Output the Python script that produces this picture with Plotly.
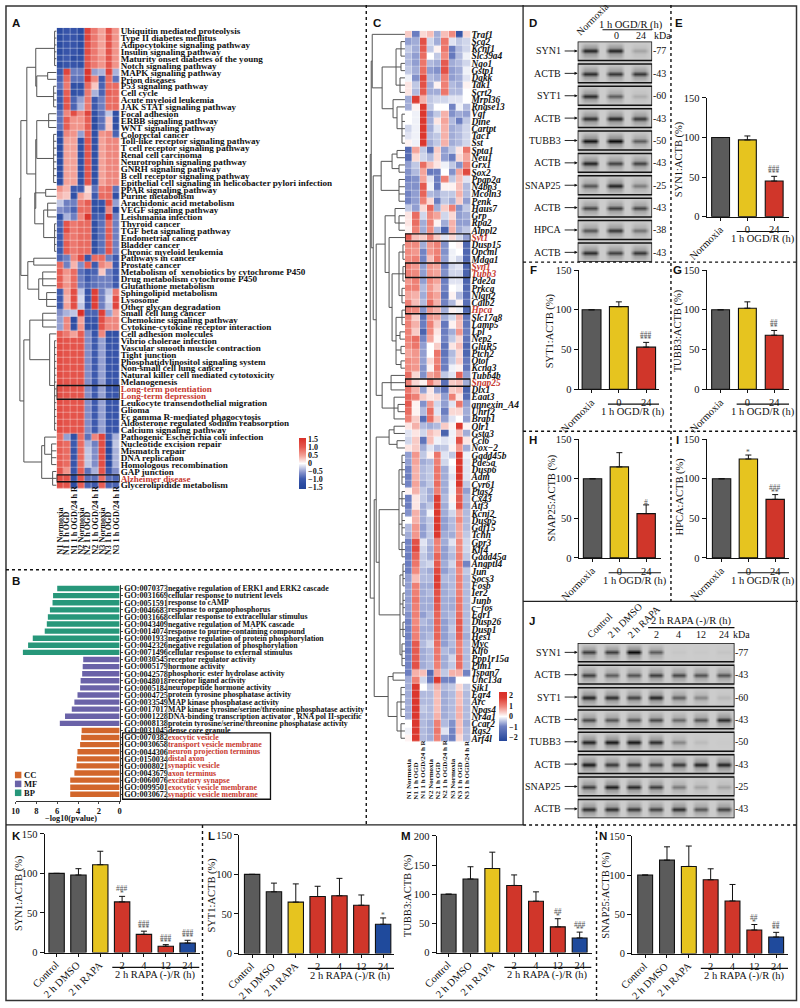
import plotly.graph_objects as go

W, H = 800, 1008
SERIF = "Liberation Serif"
SANS = "Liberation Sans"

# ---------------- DATA ----------------
A_rows = ["Ubiquitin mediated proteolysis","Type II diabetes mellitus","Adipocytokine signaling pathway","Insulin signaling pathway","Maturity onset diabetes of the young","Notch signaling pathway","MAPK signaling pathway","Prion diseases","P53 signaling pathway","Cell cycle","Acute myeloid leukemia","JAK STAT signaling pathway","Focal adhesion","ERBB signaling pathway","WNT signaling pathway","Colorectal cancer","Toll-like receptor signaling pathway","T cell receptor signaling pathway","Renal cell carcinoma","Neurotrophin signaling pathway","GNRH signaling pathway","B cell receptor signaling pathway","Epithelial cell signaling in helicobacter pylori infection","PPAR signaling pathway","Purine metabolism","Arachidonic acid metabolism","VEGF signaling pathway","Leishmania infection","Thyroid cancer","TGF beta signaling pathway","Endometrial cancer","Bladder cancer","Chronic myeloid leukemia","Pathways in cancer","Prostate cancer","Metabolism of  xenobiotics by cytochrome P450","Drug metabolism cytochrome P450","Glutathione metabolism","Sphingolipid metabolism","Lysosome","Other glycan degradation","Small cell lung cancer","Chemokine signaling pathway","Cytokine-cytokine receptor interaction","Cell adhesion molecules","Vibrio cholerae infection","Vascular smooth muscle contraction","Tight junction","Phosphatidylinositol signaling system","Non-small cell lung cancer","Natural killer cell mediated cytotoxicity","Melanogenesis","Long-term potentiation","Long-term depression","Leukocyte transendothelial migration","Glioma","Fc gamma R-mediated phagocytosis","Aldosterone regulated sodium reabsorption","Calcium signaling pathway","Pathogenic Escherichia coli infection","Nucleotide excision repair","Mismatch repair","DNA replication","Homologous recombination","GAP junction","Alzheimer disease","Glycerolipidide metabolism"]
A_red = ["Long-term potentiation","Long-term depression","Alzheimer disease"]
A_z = [
[-1.3,-1.1,-1.1,-1.3,1.3,.8,.5,1.1,.6],[-1.3,-1.1,-1.1,-1.3,1.3,.8,.5,1.1,.6],[-1.3,-1.1,-1.1,-1.3,1.2,.8,.5,1.1,.6],
[-1.3,-1.1,-1.1,-1.3,1.2,.8,.5,1.1,.6],[-1.2,-1,-1.3,-1.2,1.1,.8,.6,1.1,.6],[-1.3,-1.1,-1.1,-1.2,1.1,.8,.6,1.1,.6],
[-1,1.3,-.7,-.7,1.5,-.5,-.4,1.3,-.4],[-.9,.9,-.8,-.8,1.5,.7,-1,.9,-.8],[-.8,.8,-1.2,-1.2,.9,.3,-.9,.9,.9],
[-1,1,-1.2,-1.1,.8,-.4,-.9,1,.9],[-1,1.1,-.9,-.5,.8,-1,-.7,.9,.9],[-1,1.1,-.9,-.4,.8,-1,-.7,.9,.9],
[-.8,.7,1.2,.7,1.3,-1.2,-.8,-.3,-1.2],[-.8,1,.6,.6,1,-1.3,-.8,.3,-1.2],[-.8,1,.6,.6,1,-1.3,-.8,.3,-1.2],
[-1.2,.7,.6,-.5,1,-1.2,.6,.7,-.9],[-1.3,.5,.5,-1.2,1.1,-1.2,.5,.7,.7],[-1.3,.5,.5,-1.2,1.1,-1.2,.5,.7,.7],
[-1.3,.5,.5,-1.2,1.1,-1.2,.5,.7,.7],[-1.3,.5,.5,-1.2,1.1,-1.2,.5,.7,.7],[-1.3,.5,.5,-1.2,1.1,-1.2,.5,.7,.7],
[-1.3,.5,.5,-1.2,1.1,-1.2,.5,.7,.7],[-1.3,.5,.5,-1.2,1.1,-1.2,.5,.7,.7],
[.6,.4,-1,-1,.2,-.8,.8,.9,-.8],[.4,.3,-1.2,.5,.3,-1,.9,.9,-1.2],[-.3,-.7,-.7,.8,1,-1.2,-1.1,1.2,-.5],
[-.6,-.7,-.9,.9,.9,-1.2,-1.3,.7,-1.3],[-1.2,-.4,-.7,.7,1.5,-1,-.9,1.6,-.7],[-.9,1.1,.8,.9,.9,-1.2,-.8,.9,-.7],
[-1,1.2,.8,.9,.9,-1.2,-.8,1,-.7],[-1,.9,.8,.9,.9,-1.2,-.8,1,-.7],[-1,1,.8,.9,.9,-1.2,-.8,1,-.7],
[-1,1,.8,.9,.9,-1.2,-.8,1.1,-.7],[-.9,-.7,.7,1.2,-1.1,.9,.9,-.7,-1],[.9,-.7,.4,-.6,1,-1,.7,.5,-1],
[1,.6,.9,-.8,-1,-.9,.3,-.7,-1],[1,.5,.9,-.7,-1,-.8,-.7,-.7,-1],[1,.6,.9,-.7,-.9,-.8,-.7,-.7,-1],
[-1,.5,1.2,-.3,-1.1,1.4,-.7,-.3,.8],[-1,.4,1.2,-.2,-1.1,1.4,-.7,-.2,1.2],[-1,.5,1.2,-.3,-1.1,1.4,-.7,-.3,1.3],
[-.6,-.4,-.3,1.6,-.9,-.9,1.4,-.5,.5],[-.5,.7,-1.3,.5,-1.1,-1.1,1.2,.7,.7],[-.5,.7,-1.2,.6,-1.2,-1.2,1.1,.7,.7],
[1,.8,.5,1,-.6,-1.1,.7,-1.2,-1.2],[1.2,1.1,1.1,1.1,-.6,-1,-.5,-1.2,-1.1],[1.2,1.1,1.1,1.1,-.6,-1,-.5,-1.1,-1.1],
[1.2,1.1,1.1,1.1,-.6,-1,-.5,-1.1,-1.1],[1.2,1.1,1.1,1.1,-.6,-1,-.5,-1.1,-1.1],[1.2,1.1,1.1,1.1,-.6,-1,-.5,-1.1,-1.1],
[1.2,1.1,1.1,1.1,-.6,-1,-.5,-1.1,-1.1],[1.2,1.1,1.1,1.1,-.6,-1,-.5,-1.1,-1.1],[1.2,1.1,1.1,1.1,-.6,-1,-.5,-1.1,-1.1],
[1.2,1.1,1.1,1.1,-.6,-1,-.5,-1.1,-1.1],[1.2,1.1,1.1,1.1,-.6,-1,-.5,-1.1,-1.1],[1.2,1.1,1.1,1.1,-.6,-1,-.5,-1.1,-1.1],
[1.2,1.1,1.1,1.1,-.6,-1,-.5,-1.1,-1.1],[1.2,1.1,1.1,1.1,-.6,-1,-.5,-1.1,-1.1],[1.2,1.1,1.1,1.1,-.6,-1,-.5,-1.1,-1.1],
[.9,-.5,-1.2,.9,-.8,.7,1.3,-1,-.4],[1,.9,-1,.9,-.4,-.7,1.2,-1.3,-.3],[1,.9,-1.1,.9,-.3,-.6,1.2,-1.4,-.4],
[1,.9,-1.1,.9,-.3,-.6,1.2,-1.4,-.4],[1,.9,-1.1,.9,-.3,-.6,1.2,-1.4,-.4],[1.1,.6,-1.1,1,-.8,-.4,1.1,-1.1,-.6],
[1.2,1.1,-1.2,1.1,-.8,-.8,.9,-.8,-.9],[1.2,1.1,-1.3,1,-.9,-1,1,-.9,-.9]]
A_cols = ["N1 Normoxia","N1 1 h OGD","N1 1 h OGD/24 h R","N2 Normoxia","N2 1 h OGD","N2 1 h OGD/24 h R","N3 Normoxia","N3 1 h OGD","N3 1 h OGD/24 h R"]
A_tree = [37,
  [36,
    [30,[21,[2,0,1,2,3,4,5],[20,[9,6,7],[3,8,9,10,11]]],
        [21,[20,[8,12,13,14],[3,15,16,17,18,19,20,21,22]],[22,[11,23,24],[13,[9,25,26,27],[2,28,29,30,31,32]]]]],
    [29,[23,33,34],[18,[14,35,36,37],[10,38,39,40]]]],
  [33,[27,[14,41,42,43],[7,44,[2,45,46,47,48,49,50,51,52,53,54,55,56,57,58]]],
      [15,[12,59,[5,60,61,62,63]],[4,64,65,66]]]]

B_ids = ["GO:0070373","GO:0031669","GO:0051591","GO:0046683","GO:0031668","GO:0043409","GO:0014074","GO:0001933","GO:0042326","GO:0071496","GO:0030545","GO:0005179","GO:0042578","GO:0048018","GO:0005184","GO:0004725","GO:0033549","GO:0017017","GO:0001228","GO:0008138","GO:0031045","GO:0070382","GO:0030658","GO:0044306","GO:0150034","GO:0008021","GO:0043679","GO:0060076","GO:0099501","GO:0030672"]
B_desc = ["negative regulation of ERK1 and ERK2 cascade","cellular response to nutrient levels","response to cAMP","response to organophosphorus","cellular response to extracellular stimulus","negative regulation of MAPK cascade","response to purine-containing compound","negative regulation of protein phosphorylation","negative regulation of phosphorylation","cellular response to external stimulus","receptor regulator activity","hormone activity","phosphoric ester hydrolase activity","receptor ligand activity","neuropeptide hormone activity","protein tyrosine phosphatase activity","MAP kinase phosphatase activity","MAP kinase tyrosine/serine/threonine phosphatase activity","DNA-binding transcription activator , RNA pol II-specific","protein tyrosine/serine/threonine phosphatase activity","dense core granule","exocytic vesicle","transport vesicle membrane","neuron projection terminus","distal axon","synaptic vesicle","axon terminus","excitatory synapse","exocytic vesicle membrane","synaptic vesicle membrane"]
B_bp = [6.0,6.4,6.45,6.7,6.9,7.0,7.2,8.35,8.8,9.3]
B_mf = [3.5,3.55,3.6,3.75,3.8,4.05,4.35,4.6,5.25,5.75]
B_cc = [3.65,3.7,3.8,4.05,4.1,4.15,4.35,4.75,4.75,4.75]
B_groups = ["CC","MF","BP"]

C_rows = ["Traf1","Scg2","Kcnf1","Slc39a4","Nqo1","Gstp1","Dgkk","Tak1","Scrt2","Mrpl36","Rnase13","Vgf","Dine","Cartpt","Tac1","Sst","Spta1","Neu1","Grx1","Sox2","Ppap2a","N4bp3","Mcoln3","Penk","Haus7","Grp","Rpa2","Alppl2","Syt1","Dusp15","Opcml","Mdga1","Syn1","Tubb3","Pde2a","Prkcg","Nlgn2","Calb2","Hpca","Slc17a8","Lamp5","Lpl","Nep2","GluR5","Ptch2","Otof","Kcnq3","Tubb4b","Snap25","Dlx1","Eaat3","annexin_A4","Uhrf2","Brap1","Olr1","Gsta3","Ccl6","Nox\u22122","Gadd45b","Pde5a","Dusp6","Adm","Cyr61","Ptgs2","Cx43","Atf3","Kcnj2","Dusp5","Gdf15","Tchh","Gpr3","Klf4","Gadd45a","Angptl4","Jun","Socs3","Fosb","Ier2","Junb","c\u2212fos","Egr1","Dusp26","Dusp1","Hes1","Myc","Klf6","Ppp1r15a","Pim1","Tspan7","Unc13a","Sik1","Egr4","Arc","Npas4","Nr4a1","Ccar2","Rgs2","Arf4l"]
C_red = ["Syt1","Syn1","Tubb3","Hpca","Snap25"]
C_z = [
[.4,-1,.3,.5,-.6,.5,.9,-1.9,.3],[-.7,-.6,1.5,-.3,-.6,1.1,-.2,-.4,-.3],[-.4,-.6,1.4,-.4,.1,1.1,-1,-.5,-.3],[-.5,-.7,1.2,0,-.4,.9,-1.1,-.5,-.1],
[-.5,-.7,1.1,-.5,-.6,1.4,-.6,-.5,-.3],[-.4,-.6,1.2,-.7,-.8,1.5,-.7,-.6,-.1],[-.1,-.8,1.6,-.5,-.6,1,-.7,-.6,-.2],[.2,-.4,1.5,-.6,.1,1,-.5,-.6,.1],
[.2,-.5,1.4,-.6,-.6,1.1,-.5,-.5,0],[-.6,1.7,.6,-.4,-.3,-.3,-.2,-.2,0],[-.6,.1,1.8,-.4,0,0,-.9,-.1,-.5],[0,-.1,1.9,-.7,-.4,.6,-.8,-.6,-.7],
[0,-.1,1.9,-.6,.2,.7,-.5,-1,-.4],[-.3,-.1,1.9,-.6,-.2,.6,-.6,-.5,-.3],[-.2,-.1,1.9,-.5,-.4,.6,-.6,-.5,-.3],[.1,-.1,1.9,-.6,-.4,.6,-.6,-.5,-.3],
[-1.4,.7,-.4,-1.3,.4,-.7,-.4,.2,1.1],[-1.4,.3,-.3,-.5,.3,-.7,-1,.3,.7],[-.7,-.4,1.2,.5,.2,-.1,-.4,-.8,1],[-.8,-.5,.7,-1.1,-1,0,-.8,.7,1.6],
[-.9,-.8,.7,-.2,-1,1,-.4,.5,-.2],[-.8,-.8,1.4,-.1,-1.1,.1,.1,.5,-.5],[-.9,-.7,1.3,-.5,-.6,-.4,-.4,.6,-.5],[-.9,-.7,1,.3,-1,-.4,-.6,.4,-.7],
[-.4,-.7,.3,1.3,-.6,.4,1,-.8,-.4],[.2,1.2,-.3,.9,.7,-.3,.3,-.7,-.6],[.2,1.2,-.6,1,.1,-.6,.6,-.7,-.7],[.1,1,-.6,.9,-.5,-1.6,.6,-.6,-.4],
[1.4,.5,.4,1,.4,-.2,.3,-.3,-.7],[.9,.9,-.6,.8,1,-.8,0,.1,-1.5],[.9,.8,-.9,.8,1,-.8,-.1,0,-1.5],[.9,1,-.9,.5,1.1,-.7,-.1,-.3,-1.5],
[1,.8,-.7,.8,.7,-1,-.3,-.2,-1.6],[1,.9,-.7,.8,.7,-.8,-.3,-.3,-1.6],[.8,1,-.7,.9,.7,-1,-.2,-.2,-1.6],[1,1,-.5,.8,.5,-.9,0,-.1,-1.5],
[.7,.6,-.6,.9,.7,-1.2,.1,-.5,-1.4],[1,.5,-.5,1.2,.6,-.9,-.5,.1,-1.3],[1,.9,-.8,.8,.6,-.6,.1,-.1,-1.5],[1,.4,-1.3,.8,.7,-.6,-.3,.6,-1.2],
[1,.6,-1,1,.4,-1.1,.1,.5,-1.2],[1,.4,-1.6,.9,.2,-1,-.6,.8,-1],[1,1.2,-.9,.7,.1,-.9,-.4,.3,-1.2],[.9,1.1,-.7,0,.4,-1.2,.2,.5,-1.5],
[.7,.8,-.7,0,1.1,-1.2,-.5,.3,-1.5],[.9,.8,-.7,.3,1,-1,-.4,.4,-1.1],[.9,.8,-.8,.1,1.1,-1,-.1,.1,-1.2],[1.2,.3,-.8,.7,.9,-.4,-.2,1.3,-.7],
[1,.3,.1,1,.5,-1.3,.4,.5,-.6],[1.1,.6,-.7,.2,-.7,-1.2,.4,.5,-1.6],[1.3,1,.4,.2,.3,-.7,1,.2,-1.4],[1.4,.1,-.8,.8,-.3,-.7,-.2,1.1,-.7],
[1.2,.1,-.5,1.2,-.2,-1,.3,.3,-.6],[1,.4,-1.4,1.2,.4,-.7,-.2,0,-.7],[.2,.6,-.5,-.6,-.5,.4,.1,1.9,.1],[-.2,.2,-.3,.5,.3,-1.6,-.1,.5,-.6],
[-.3,.4,-1.2,.5,-.1,-.2,-.1,1.5,.2],[.2,.4,-.6,-.2,-.5,-.4,.1,.8,-.6],[-.7,.8,-.4,.1,1.1,-.2,-.4,1.8,-.1],[-.7,.7,-.6,-.5,1,-.3,0,1.9,-.2],
[-.9,.6,-.5,-.4,1.1,-.6,-.1,1.9,-.2],[-1,.6,-.5,-.4,1.1,-.6,-.2,1.9,-.2],[-.9,.7,-.6,-.4,1.2,-.6,-.1,1.9,-.4],[.1,.6,-.4,-.6,1,-.6,-.1,1.3,-.7],
[-1,.2,-.4,-.6,1.7,-.5,.1,1.4,-.5],[-1,.2,-.6,-.4,1.7,-.6,-.1,1.5,-.6],[-.8,.6,-.6,-.1,1.8,-.6,-.3,.7,-.5],[0,.6,-.6,-.4,1.8,-.7,-.5,.9,-.5],
[-.5,.8,-.7,-.4,1.9,-.7,-.5,.7,-.5],[-.6,.8,-.7,-.4,1.9,-.6,-.6,.7,-.4],[-.9,1.5,-.2,-.5,1,-.6,-.2,.9,-.3],[-.9,1.6,-.3,-.6,1,-.7,-.4,.9,-.3],
[-1,1.3,-.4,-.6,1.3,-.7,-.5,1,-.4],[-1,1.1,-.4,-.3,1.4,-.6,-.3,1.1,-.9],[-1,.9,-.5,-.6,1.6,-.7,-.5,.9,-.4],[-.7,.5,-.5,-.5,1.7,-.5,-.5,1,-.5],
[-.7,1,-.6,-.6,1.7,-.6,-.5,1,-.5],[-.7,1,-.6,-.5,1.5,-.6,-.5,1,-.5],[-.7,1.1,-.6,-.6,1.5,-.6,-.6,1.1,-.5],[-.7,1,-.6,-.6,1.4,-.6,-.6,1.1,-.5],
[-.8,1,-.7,-.5,1.3,-.6,-.5,1.2,-.5],[-.9,.9,-.5,-.6,1.3,-.7,-.5,1.4,-.5],[-.9,1,-.6,-.6,1.3,-.7,-.4,1.4,-.5],[-.9,1,-.6,-.5,1.3,-.7,-.5,1.3,-.6],
[-.9,1.4,-.5,-.3,1.2,-.7,-.5,1,-.5],[-1,1.4,-.6,-.5,1.1,-.5,-.6,1,-.5],[-.9,1.4,-.6,-.5,1.1,-.6,-.3,1.2,-.5],[-.9,1.5,-.6,-.5,1,-.6,-.4,1.2,-.5],
[-1,.6,.5,-1.4,.7,-.4,.6,.6,-.9],[-.6,1,-.3,-1.1,1.8,-.9,-.9,0,0],[-.6,1.9,0,-.4,.6,-.5,-.4,.3,-.4],[-.6,1.9,-.5,-.5,.5,-.6,-.5,.5,-.5],
[-.6,1.9,-.5,-.5,.5,-.6,-.5,.5,-.5],[-.6,1.9,-.4,-.5,.5,-.6,-.5,.6,-.5],[-.6,1.9,-.5,-.5,.6,-.6,-.5,.6,-.5],[0,1.8,-.5,-.6,1,-.5,-.8,.5,-.6],
[-.1,1.8,-.5,-.6,1.1,-.2,-.9,.5,-.5],[.1,1.8,-.5,-.6,1,-.7,-1,.3,-.5]]
C_cols = ["N1 Normoxia","N1 1 h OGD","N1 1 h OGD/24 h R","N2 Normoxia","N2 1 h OGD","N2 1 h OGD/24 h R","N3 Normoxia","N3 1 h OGD","N3 1 h OGD/24 h R"]
C_tree = [35,
  [34,
    [33,0,[23,[9,[4,1,2,3],[4,4,5],[5,6,7,8]],[12,9,[8,10,[3,11,12,13,14,15]]]]],
    [32,
      [24,[13,[8,16,17],[6,18,19]],[6,20,21,22,23]],
      [29,
        [20,[10,24,[6,25,26,27]],[16,28,[13,[6,[2,29,30,31],[2,32,33,34],[3,35,36,37]],[9,[3,38,39,40],[5,41,42],[4,43,44],[4,45,46]]]]],
        [23,[14,47,48,49],[11,50,[7,51,52],53]]]]],
  [31,
    [29,[16,[11,54,55],[8,56,57]],
        [26,[6,[3,58,59,60,61,62],[3,63,64,65],[3,66,67,68,69],[3,70,71,72]],[5,[2,73,74,75,76],[2,77,78,79,80],[2,81,82,83],[3,84,85,86,87]]]],
    [17,[12,88,89],[8,[4,90,91,92,93,94],[4,95,96,97]]]]]

D_blots = ["SYN1","ACTB","SYT1","ACTB","TUBB3","ACTB","SNAP25","ACTB","HPCA","ACTB"]
D_kda = ["77","43","60","43","50","43","25","43","38","43"]
D_bands = [[.85,.85,.2],[.8,.75,.75],[.8,.55,.15],[.8,.85,.75],[.9,.95,.55],[.85,.7,.7],[.6,.85,.4],[.65,.7,.65],[.6,.75,.45],[.8,.7,.75]]
J_blots = ["SYN1","ACTB","SYT1","ACTB","TUBB3","ACTB","SNAP25","ACTB"]
J_kda = ["77","43","60","43","50","43","25","43"]
J_bands = [[.7,.7,.95,.55,.03,.02,.04],[.7,.55,.6,.7,.65,.6,.6],[.85,.8,.7,.85,.55,.35,.1],[.65,.6,.6,.65,.5,.6,.8],
           [.85,.9,.9,.8,.35,.08,.01],[.9,.75,.75,.7,.75,.85,.85],[.7,.85,.8,.7,.4,.2,.2],[.8,.8,.75,.7,.8,.6,.7]]

E_vals, E_err, E_sig = [100,97,45],[0,5,6],["","","###|***"]
F_vals, F_err, F_sig = [100,104,53],[0,6,6],["","","###|***"]
G_vals, G_err, G_sig = [100,102,68],[0,8,6],["","","##|**"]
H_vals, H_err, H_sig = [100,115,56],[0,18,11],["","","#"]
I_vals, I_err, I_sig = [100,125,74],[0,5,6],["","*","###|**"]
K_vals, K_err, K_sig = [100,98,111,64,23,8,12],[0,8,17,7,4,2,3.5],["","","","###|*","###|***","###|***","###|***"]
L_vals, L_err, L_sig = [100,78,65,72,73,61,37],[0,11,23,13,22,13,8],["","","","","","","*"]
M_vals, M_err, M_sig = [100,126,144,115,88,44,25],[0,21,28,18,16,14,10],["","","","","","##|*","###|**"]
N_vals, N_err, N_sig = [100,119,111,94,67,30,21],[0,17,26,14,21,7,6],["","","","","","##|*","##|**"]
COL3 = ["#5b5b5b","#e6c41f","#d0362a"]
COL7 = ["#5b5b5b","#5b5b5b","#e6c41f","#d0362a","#d0362a","#d0362a","#1f4a9c"]
LAB7 = ["Control","2 h DMSO","2 h RAPA"]
T7 = ["2","4","12","24"]

# ---------------- HELPERS ----------------
PX = lambda x: x / W
PY = lambda y: 1 - y / H
fig = go.Figure()
layout = dict(width=W, height=H, margin=dict(l=0, r=0, t=0, b=0), autosize=False,
              paper_bgcolor="white", plot_bgcolor="rgba(0,0,0,0)", showlegend=False, font=dict(family=SERIF, color="#111"))
shapes, annos = [], []
_n = [0]

def new_axes(x0, x1, ytop, ybot, xopts=None, yopts=None):
    _n[0] += 1
    s = "" if _n[0] == 1 else str(_n[0])
    base = dict(showgrid=False, zeroline=False, showline=False, ticks="", showticklabels=False)
    xo = dict(base, domain=[PX(x0), PX(x1)], anchor="y" + s); xo.update(xopts or {})
    yo = dict(base, domain=[PY(ybot), PY(ytop)], anchor="x" + s); yo.update(yopts or {})
    layout["xaxis" + s] = xo
    layout["yaxis" + s] = yo
    return "x" + s, "y" + s

def ann(text, x, y, size=10, xa="center", ya="middle", angle=0, color="#111", bold=False, italic=False,
        family=SERIF, xref=None, yref=None):
    annos.append(dict(text=text, x=x if xref else PX(x), y=y if yref else PY(y), xref=xref or "paper", yref=yref or "paper",
                      xanchor=xa, yanchor=ya, textangle=angle, showarrow=False, borderpad=0, borderwidth=0,
                      font=dict(family=family, size=size, color=color, weight="bold" if bold else "normal",
                                style="italic" if italic else "normal")))

def line(x0, y0, x1, y1, color="#111", width=1.0, dash="solid"):
    shapes.append(dict(type="line", xref="paper", yref="paper", x0=PX(x0), x1=PX(x1), y0=PY(y0), y1=PY(y1),
                       line=dict(color=color, width=width, dash=dash), layer="above"))

def tree_lines(node, xs, ys):
    if isinstance(node, int):
        return node, 0
    h = node[0]
    pos = []
    for ch in node[1:]:
        p, hc = tree_lines(ch, xs, ys)
        xs += [hc, h, None]; ys += [p, p, None]
        pos.append(p)
    xs += [h, h, None]; ys += [pos[0], pos[-1], None]
    return (pos[0] + pos[-1]) / 2, h

SCALE_A = [[0, "#24459a"], [.1, "#2c4ca2"], [.2, "#3f5bae"], [.32, "#8490ca"], [.5, "#ffffff"], [.65, "#f4a49b"], [.82, "#e65a50"], [1, "#d92f28"]]
SCALE_C = [[0, "#24459a"], [.3, "#6f80c2"], [.5, "#ffffff"], [.7, "#f0877c"], [.88, "#dc3a30"], [1, "#d92f28"]]

def heat(z, rows, red, cols, x0, x1, ytop, ybot, dx0, tree, hmax, zmax, scale, cb, fsize, colsize, italic, col_bottom, boxes):
    xa, ya = new_axes(x0, x1, ytop, ybot, dict(range=[-.5, 8.5]),
        dict(range=[len(rows) - .5, -.5], side="right", showticklabels=True, tickmode="array",
             tickvals=list(range(len(rows))),
             ticktext=[f'<span style="color:#c8392f">{r}</span>' if r in red else r for r in rows],
             tickfont=dict(family=SERIF, size=fsize, color="#111", weight="bold", style="italic" if italic else "normal")))
    fig.add_trace(go.Heatmap(z=z, xaxis=xa, yaxis=ya, colorscale=scale, zmin=-zmax, zmax=zmax, xgap=.35, ygap=.35,
                             hoverinfo="skip", showlegend=False, colorbar=cb))
    xd, yd = new_axes(dx0, x0, ytop, ybot, dict(range=[hmax, 0]), dict(range=[len(rows) - .5, -.5]))
    xs, ys = [], []
    tree_lines(tree, xs, ys)
    fig.add_trace(go.Scatter(x=xs, y=ys, mode="lines", xaxis=xd, yaxis=yd, line=dict(color="#555", width=1),
                             hoverinfo="skip", showlegend=False))
    for i, c in enumerate(cols):
        ann(c, i, PY(col_bottom), size=colsize, ya="bottom", angle=-90, bold=True, xref=xa, yref="paper")
    for a, b in boxes:
        shapes.append(dict(type="rect", xref=xa, yref=ya, x0=-.5, x1=8.5, y0=a - .5, y1=b + .5,
                           line=dict(color="#111", width=1.4), layer="above"))

def cbar(x, ytop, ybot, thick, vals, texts):
    return dict(x=PX(x), xanchor="left", y=PY(ybot), yanchor="bottom", len=ybot - ytop, lenmode="pixels",
                thickness=thick, thicknessmode="pixels", outlinewidth=0, ticks="", tickmode="array", tickvals=vals,
                ticktext=texts, tickfont=dict(family=SERIF, size=8, color="#111", weight="bold"), xpad=0, ypad=0)

def bars(vals, err, sig, colors, x_left, x_right, y0, ytop, ymax, c0, pitch, bw, ticks, ylabel, ylx, yly, tvals, rot, group, gstart):
    n = len(vals)
    xa, ya = new_axes(x_left, x_right, ytop, y0,
        dict(range=[-(c0 - x_left) / pitch, (x_right - c0) / pitch], showline=True, linecolor="#111", linewidth=1.2,
             ticks="outside", ticklen=3, tickcolor="#111", tickvals=list(range(n)), ticktext=ticks, showticklabels=True,
             tickangle=0, tickfont=dict(family=SERIF, size=10.5, color="#111")),
        dict(range=[0, ymax], showline=True, linecolor="#111", linewidth=1.2, ticks="outside", ticklen=4, tickcolor="#111",
             tickvals=tvals, showticklabels=True, tickfont=dict(family=SERIF, size=10.5, color="#111")))
    fig.add_trace(go.Bar(x=list(range(n)), y=vals, width=bw / pitch, xaxis=xa, yaxis=ya, showlegend=False, hoverinfo="skip",
                         marker=dict(color=colors, line=dict(color="#111", width=1.1)),
                         error_y=dict(type="data", symmetric=False, array=err, arrayminus=[0] * n, color="#111", thickness=1, width=3)))
    ann(ylabel, ylx, yly, size=10.5, angle=-90)
    for i, lab in enumerate(rot):
        ann(lab, i + .2, PY(y0 + 7), size=10.5, xa="right", ya="top", angle=-45, xref=xa, yref="paper")
    shapes.append(dict(type="line", xref=xa, yref="paper", x0=gstart, x1=(x_right - c0) / pitch, y0=PY(y0 + 15), y1=PY(y0 + 15),
                       line=dict(color="#111", width=1.2)))
    ann(group, (gstart + (x_right - c0) / pitch) / 2, PY(y0 + 23), size=10.5, xref=xa, yref="paper")
    for i, s in enumerate(sig):
        if not s:
            continue
        for k, t in enumerate(reversed(s.split("|"))):
            annos.append(dict(text=t, x=i, y=vals[i] + err[i], xref=xa, yref=ya, yanchor="bottom", showarrow=False, yshift=-3 + 5 * k,
                              font=dict(family=SERIF, size=7.5, color="#555"), borderpad=0))

def blots(bands, names, kda, x0, x1, ytop, pitch, bh, lab_x, kda_x):
    nl, nb = len(bands[0]), len(bands)
    hd = bh / pitch
    xa, ya = new_axes(x0, x1, ytop, ytop + pitch * (nb - 1) + bh, dict(range=[0, nl]), dict(range=[nb - 1 + hd, 0]))
    bg = .8
    xs = [0.0]
    for k in range(nl):
        xs += [k + .1, k + .28, k + .72, k + .9]
    xs.append(float(nl))
    prof = [0, .3, 1, .3, 0]
    for i, b in enumerate(bands):
        ygrid = [i, i + hd * .34, i + hd * .5, i + hd * .66, i + hd]
        z = []
        for p in prof:
            row = [bg]
            for v in b:
                row += [bg, bg * (1 - v * p), bg * (1 - v * p), bg]
            row.append(bg)
            z.append(row)
        fig.add_trace(go.Heatmap(z=z, x=xs, y=ygrid, xaxis=xa, yaxis=ya, zsmooth="best", zmin=0, zmax=1, showscale=False,
                                 colorscale=[[0, "#000000"], [1, "#ffffff"]], hoverinfo="skip"))
        shapes.append(dict(type="rect", xref=xa, yref=ya, x0=0, x1=nl, y0=i, y1=i + hd, line=dict(color="#111", width=1.5), layer="above"))
        ann(names[i], lab_x, i + hd / 2, size=10, xa="right", yref=ya)
        annos.append(dict(text=" ", x=0, y=i + hd / 2, xref=xa, yref=ya, ax=-16, ay=0, showarrow=True, arrowhead=2, arrowsize=.7,
                          arrowwidth=.9, arrowcolor="#111"))
        ann("-" + kda[i], kda_x, i + hd / 2, size=10, xa="left", yref=ya)

# ---------------- PANEL A ----------------
heat(A_z, A_rows, A_red, A_cols, 53, 116.5, 23, 489, 15, A_tree, 38, 1.6, SCALE_A,
     cbar(297.5, 438, 489, 7, [1.5, 1, .5, 0, -.5, -1, -1.5], ["1.5", "1.0", "0.5", "0", "\u22120.5", "\u22121.0", "\u22121.5"]),
     9.1, 8.2, False, 556, [(52, 53), (65, 65)])

# ---------------- PANEL B ----------------
pitch_b = 7.17
xb, yb = new_axes(11.7, 116.5, 586, 805,
    dict(range=[10, 0], showline=True, linecolor="#333", linewidth=1, ticks="outside", ticklen=2, tickvals=[10, 8, 6, 4, 2, 0],
         showticklabels=True, tickfont=dict(family=SERIF, size=8.5, color="#111", weight="bold")),
    dict(range=[29 + 7 / pitch_b, -4 / pitch_b], side="right", showline=True, linecolor="#333", linewidth=1, ticks="outside",
         ticklen=2, tickvals=list(range(30)), ticktext=B_ids, showticklabels=True,
         tickfont=dict(family=SERIF, size=8.1, color="#111", weight="bold")))
B_cols = ["#d2662b", "#6a62a8", "#27977a"]
for name, vals, start, col in zip(B_groups, [B_cc, B_mf, B_bp], [20, 10, 0], B_cols):
    fig.add_trace(go.Bar(x=vals, y=list(range(start, start + 10)), orientation="h", width=.76, xaxis=xb, yaxis=yb, name=name,
                         marker=dict(color=col, line=dict(width=0)), hoverinfo="skip", showlegend=False))
for i, d in enumerate(B_desc):
    ann(d, 165, i, size=7.85, xa="left", yref=yb, bold=True, color="#c8392f" if i >= 21 else "#111")
ann("\u2212log10(pvalue)", 68, 822, size=8.2, bold=True)
line(164, 586, 164, 803, color="#888", width=1)
shapes.append(dict(type="rect", xref="paper", yref="paper", x0=PX(119.5), x1=PX(268.5), y0=PY(803), y1=PY(736), line=dict(color="#111", width=1.3)))
for name, col, yy in zip(B_groups, B_cols, [778.5, 787.5, 796.5]):
    shapes.append(dict(type="rect", xref="paper", yref="paper", x0=PX(11), x1=PX(17.5), y0=PY(yy + 3.3), y1=PY(yy - 3.3),
                       fillcolor=col, line=dict(width=0)))
    ann(name, 20, yy, size=8.5, xa="left", bold=True)

# ---------------- PANEL C ----------------
heat(C_z, C_rows, C_red, C_cols, 404, 470, 26, 745, 368, C_tree, 36, 2.3, SCALE_C,
     cbar(499, 695, 744, 8, [2, 1, 0, -1, -2], ["2", "1", "0", "\u22121", "\u22122"]),
     9.4, 7, True, 803, [(28, 28), (32, 33), (38, 38), (48, 48)])

# ---------------- PANEL D / J ----------------
blots(D_bands, D_blots, D_kda, 578, 653, 37, 22.62, 19, 561, 654)
ann("Normoxia", 574, 33, xa="left", ya="bottom", angle=-45)
ann("1 h OGD/R (h)", 632, 20, size=10.5)
line(603, 25, 653, 25, width=1.2)
ann("0", 617, 31); ann("24", 642, 31); ann("kDa", 663, 31)

blots(J_bands, J_blots, J_kda, 578, 736, 645, 22.6, 19, 561, 737)
for t, x, y in [("Control", 585, 642), ("2 h DMSO", 606, 642), ("2 h RAPA", 626, 642)]:
    ann(t, x, y, xa="left", ya="bottom", angle=-45, size=10)
ann("2 h RAPA (-)/R (h)", 693, 623, size=10.5)
line(649, 629.5, 736, 629.5, width=1.2)
for t, x in [("2", 657), ("4", 680), ("12", 702), ("24", 725)]:
    ann(t, x, 636)
ann("kDa", 743, 636)

# ---------------- BAR PANELS ----------------
T3 = ["", "0", "24"]
GR3, GR7 = "1 h OGD/R (h)", "2 h RAPA (-)/R (h)"
t150 = [0, 50, 100, 150]
bars(E_vals, E_err, E_sig, COL3, 708, 791, 214, 94, 150, 722, 27, 18, T3, "SYN1:ACTB (%)", 680, 156, t150, ["Normoxia"], GR3, .6)
bars(F_vals, F_err, F_sig, COL3, 579, 660, 388.5, 268, 150, 592, 27.5, 19, T3, "SYT1:ACTB (%)", 551, 329, t150, ["Normoxia"], GR3, .6)
bars(G_vals, G_err, G_sig, COL3, 708, 791, 388.5, 268, 150, 722, 27, 18, T3, "TUBB3:ACTB (%)", 680, 329, t150, ["Normoxia"], GR3, .6)
bars(H_vals, H_err, H_sig, COL3, 579, 662, 559, 439, 150, 593, 27, 18.5, T3, "SNAP25:ACTB (%)", 552, 498, t150, ["Normoxia"], GR3, .6)
bars(I_vals, I_err, I_sig, COL3, 708, 791, 559, 439, 150, 723, 27, 18.5, T3, "HPCA:ACTB (%)", 681, 497, t150, ["Normoxia"], GR3, .6)
t7 = ["", "", ""] + T7
bars(K_vals, K_err, K_sig, COL7, 41, 197, 958, 838, 150, 53, 22, 15.5, t7, "SYN1:ACTB (%)", 15, 898, t150, LAB7, GR7, 2.55)
bars(L_vals, L_err, L_sig, COL7, 237, 393, 959, 839, 150, 250, 22, 15.5, t7, "SYT1:ACTB (%)", 210, 900, t150, LAB7, GR7, 2.55)
bars(M_vals, M_err, M_sig, COL7, 436, 592, 958, 840, 200, 448, 22, 15, t7, "TUBB3:ACTB (%)", 407, 900, [0, 50, 100, 150, 200], LAB7, GR7, 2.55)
bars(N_vals, N_err, N_sig, COL7, 633, 790, 959, 840, 150, 646, 22, 15, t7, "SNAP25:ACTB (%)", 607, 900, t150, LAB7, GR7, 2.55)

# ---------------- PANEL LETTERS & DIVIDERS ----------------
for t, x, y in [("A", 12, 18), ("B", 12, 582), ("C", 376, 18), ("D", 533, 18), ("E", 680, 18), ("F", 533, 268), ("G", 679, 268),
                ("H", 533, 440), ("I", 679, 440), ("J", 532, 623), ("K", 13, 840), ("L", 209, 840), ("M", 405, 840), ("N", 604, 840)]:
    ann(t, x, y, size=11.5, bold=True, family=SANS)

shapes.append(dict(type="rect", xref="paper", yref="paper", x0=PX(2), x1=PX(798.5), y0=PY(1006.5), y1=PY(1), line=dict(color="#333", width=1.5)))
line(2, 829, 523, 829, color="#222", width=1.3)
line(523, 0, 523, 829, color="#222", width=1.3)
line(523, 603, 800, 603, color="#222", width=1.3)
for a in [(2, 571, 365, 571), (365, 0, 365, 829), (672, 0, 672, 603), (523, 260, 800, 260), (523, 431, 800, 431),
          (523, 829, 800, 829), (200, 829, 200, 1006), (597, 829, 597, 1006)]:
    line(*a, color="#111", width=1.4, dash="dot")

layout["shapes"] = shapes
layout["annotations"] = annos
layout["barmode"] = "overlay"
fig.update_layout(**layout)
fig.write_html("out.html", post_script="document.body.style.margin='0';", config=dict(displayModeBar=False))
